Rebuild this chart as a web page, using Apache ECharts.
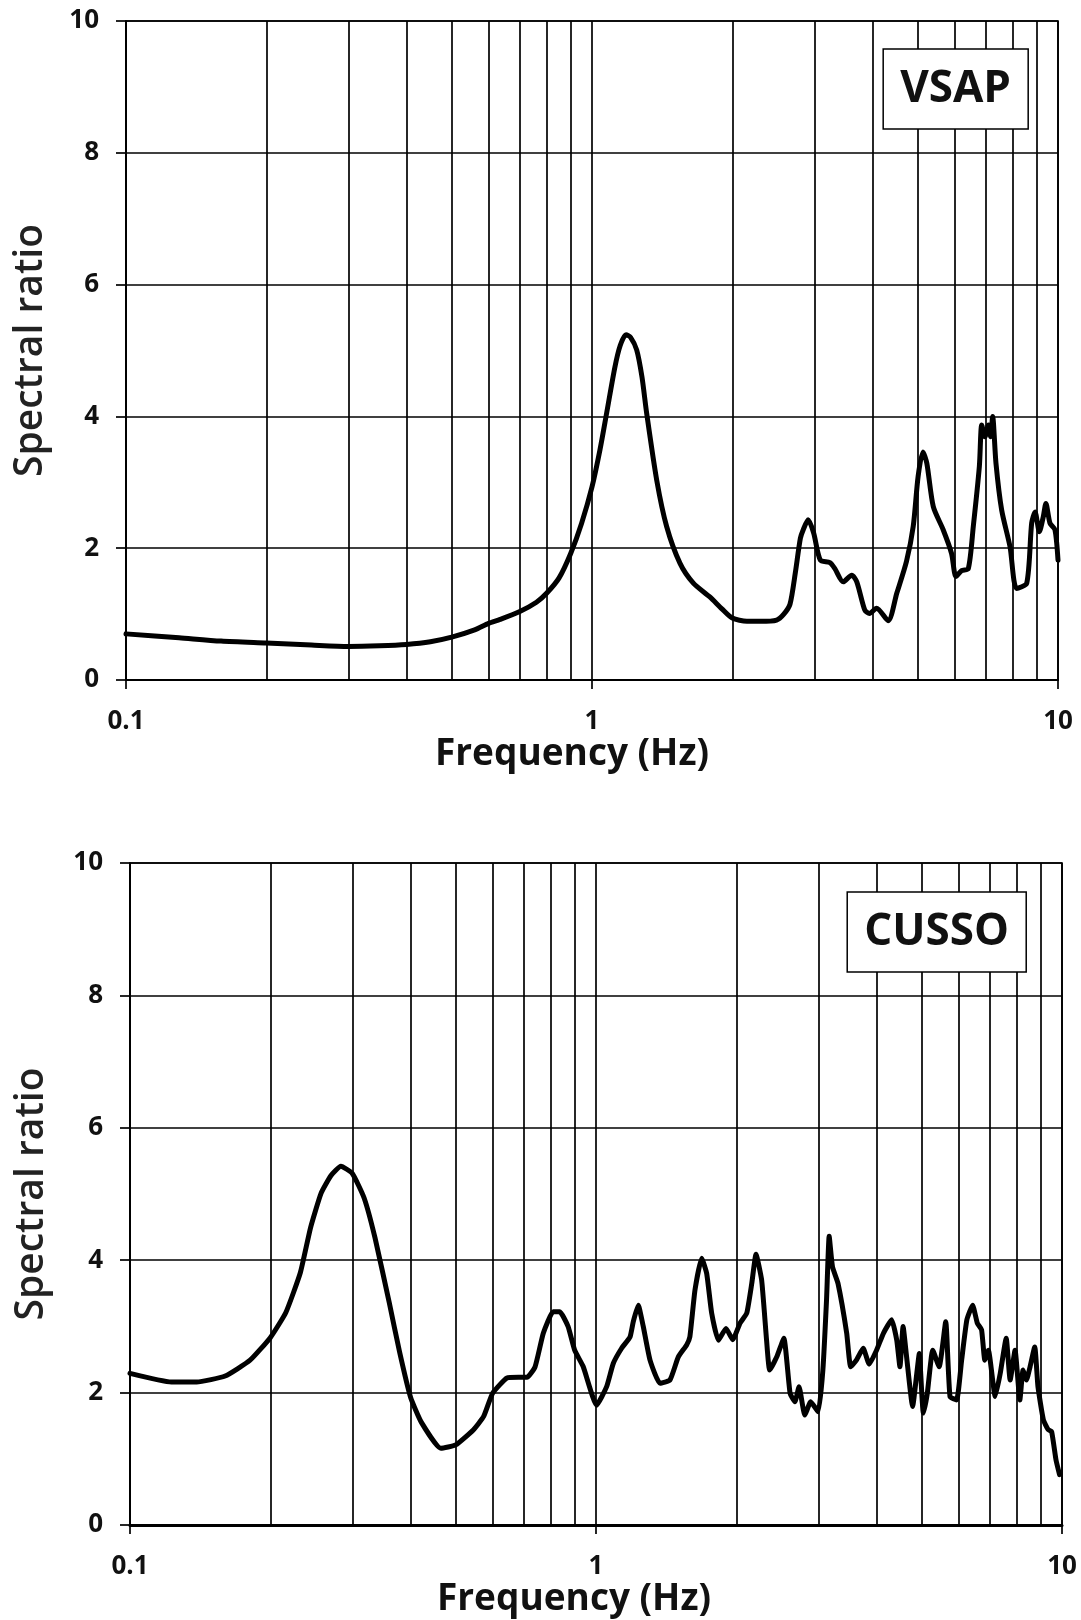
<!DOCTYPE html>
<html>
<head>
    <meta charset="utf-8">
    <title>Spectral ratio</title>
    <style>
        html, body { margin: 0; padding: 0; background: #fff; }
        #chart { width: 1081px; height: 1620px; }
    </style>
</head>
<body>
<div id="chart"></div>
<script src="https://cdn.jsdelivr.net/npm/echarts@6/dist/echarts.min.js"></script>
<script>
    // station names shown in the boxes
    var stations = ['VSAP', 'CUSSO'];

    // VSAP curve (frequency in Hz, spectral ratio)
    var vsapFreq = [0.1, 0.13, 0.16, 0.2, 0.25, 0.3, 0.35, 0.4, 0.45, 0.5, 0.56, 0.6, 0.635, 0.7, 0.76, 0.8, 0.85, 0.9, 0.95, 1.0,
        1.04, 1.075, 1.12, 1.15, 1.183, 1.21, 1.247, 1.28, 1.31, 1.377, 1.446, 1.545, 1.65, 1.79, 1.9, 2.0, 2.15, 2.3, 2.49, 2.58,
        2.66, 2.73, 2.8, 2.84, 2.91, 2.99, 3.09, 3.24, 3.32, 3.46, 3.61, 3.7, 3.85, 3.94, 4.08, 4.32, 4.51, 4.73, 4.89, 5.01,
        5.13, 5.23, 5.4, 5.67, 5.91, 6.04, 6.21, 6.42, 6.58, 6.78, 6.86, 6.97, 7.09, 7.17, 7.24, 7.36, 7.57, 7.89, 8.15, 8.57,
        8.78, 8.93, 9.12, 9.3, 9.42, 9.61, 9.85, 10];
    var vsapRatio = [0.70, 0.64, 0.59, 0.56, 0.53, 0.51, 0.52, 0.54, 0.58, 0.65, 0.76, 0.86, 0.92, 1.04, 1.18, 1.32, 1.55, 1.92, 2.38, 2.93,
        3.49, 4.05, 4.75, 5.08, 5.24, 5.20, 5.01, 4.60, 4.05, 3.03, 2.33, 1.77, 1.47, 1.26, 1.08, 0.94, 0.89, 0.89, 0.91, 1.00,
        1.15, 1.62, 2.15, 2.28, 2.43, 2.23, 1.82, 1.78, 1.69, 1.49, 1.59, 1.49, 1.06, 1.01, 1.09, 0.90, 1.32, 1.80, 2.33, 3.09,
        3.46, 3.29, 2.63, 2.28, 1.92, 1.57, 1.66, 1.69, 2.33, 3.24, 3.87, 3.69, 3.87, 3.69, 4.00, 3.29, 2.58, 2.02, 1.39, 1.47,
        2.38, 2.55, 2.25, 2.48, 2.68, 2.38, 2.28, 1.82];

    // CUSSO curve
    var cussoFreq = [0.1, 0.1227, 0.139, 0.16, 0.181, 0.2, 0.216, 0.232, 0.244, 0.257, 0.27, 0.2835, 0.3, 0.318, 0.3355, 0.36, 0.379, 0.4, 0.422, 0.4646,
        0.5, 0.546, 0.574, 0.6, 0.644, 0.682, 0.711, 0.74, 0.771, 0.809, 0.836, 0.871, 0.9, 0.939, 1.003, 1.054, 1.089, 1.135, 1.183, 1.202,
        1.232, 1.263, 1.306, 1.372, 1.441, 1.502, 1.565, 1.59, 1.631, 1.686, 1.728, 1.771, 1.831, 1.901, 1.965, 2.038, 2.106, 2.159, 2.205, 2.267,
        2.323, 2.359, 2.443, 2.53, 2.609, 2.672, 2.727, 2.806, 2.889, 2.998, 3.068, 3.124, 3.165, 3.217, 3.306, 3.451, 3.52, 3.621, 3.744, 3.857,
        4.0, 4.14, 4.31, 4.42, 4.49, 4.56, 4.64, 4.78, 4.88, 4.94, 5.04, 5.14, 5.28, 5.45, 5.63, 5.75, 5.94, 6.09, 6.25, 6.43,
        6.58, 6.72, 6.83, 6.95, 7.19, 7.37, 7.59, 7.74, 7.93, 8.12, 8.25, 8.39, 8.54, 8.74, 8.88, 9.12, 9.34, 9.5, 9.71, 9.88];
    var cussoRatio = [2.29, 2.16, 2.16, 2.25, 2.49, 2.83, 3.21, 3.81, 4.49, 5.01, 5.28, 5.42, 5.31, 4.94, 4.34, 3.36, 2.61, 1.93, 1.55, 1.16,
        1.21, 1.44, 1.64, 1.99, 2.22, 2.23, 2.23, 2.39, 2.90, 3.22, 3.22, 3.00, 2.64, 2.39, 1.81, 2.09, 2.44, 2.67, 2.84, 3.07,
        3.32, 3.00, 2.49, 2.14, 2.19, 2.54, 2.72, 2.84, 3.55, 4.03, 3.80, 3.20, 2.79, 2.97, 2.80, 3.05, 3.20, 3.65, 4.09, 3.70,
        2.79, 2.34, 2.54, 2.82, 1.99, 1.86, 2.09, 1.66, 1.86, 1.71, 2.34, 3.40, 4.36, 3.90, 3.65, 2.90, 2.39, 2.49, 2.67, 2.43,
        2.64, 2.90, 3.10, 2.79, 2.39, 3.00, 2.54, 1.79, 2.29, 2.59, 1.69, 1.99, 2.64, 2.39, 3.07, 1.94, 1.89, 2.49, 3.10, 3.32,
        3.05, 2.95, 2.49, 2.64, 1.94, 2.29, 2.82, 2.19, 2.64, 1.89, 2.34, 2.19, 2.39, 2.69, 2.09, 1.59, 1.44, 1.41, 0.98, 0.76];

    // vertical lines between decades
    var minorFreq = [0.2, 0.3, 0.4, 0.5, 0.6, 0.7, 0.8, 0.9, 2, 3, 4, 5, 6, 7, 8, 9];

    var ink = '#000';
    var font = 'Open Sans';

    function pairs(xs, ys) {
        var out = [];
        for (var i = 0; i < xs.length; i++) out.push([xs[i], ys[i]]);
        return out;
    }

    function makeX(idx, gap, padRight, width) {
        return {
            type: 'log', logBase: 10, gridIndex: idx, min: 0.1, max: 10,
            name: 'Frequency (Hz)', nameLocation: 'middle', nameGap: gap,
            nameTextStyle: {fontFamily: font, fontWeight: 'bold', fontSize: 37, color: '#111', padding: [0, padRight, 0, 0]},
            axisLine: {show: true, onZero: false, lineStyle: {color: ink, width: width}},
            axisTick: {show: true, length: 9, lineStyle: {color: ink, width: 1.7}},
            axisLabel: {
                fontFamily: font, fontWeight: 'bold', fontSize: 26, color: '#111', margin: 29,
                formatter: function (v) { return String(+v.toPrecision(3)); }
            },
            splitLine: {show: true, lineStyle: {color: ink, width: 1.7}}
        };
    }

    function makeY(idx, gap) {
        return {
            type: 'value', gridIndex: idx, min: 0, max: 10, interval: 2,
            name: 'Spectral ratio', nameLocation: 'middle', nameGap: gap, nameRotate: 90,
            nameTextStyle: {fontFamily: font, fontWeight: 600, fontSize: 39, color: '#222'},
            axisLine: {show: true, lineStyle: {color: ink, width: 1.7}},
            axisTick: {show: true, length: 10, lineStyle: {color: ink, width: 1.7}},
            axisLabel: {fontFamily: font, fontWeight: 'bold', fontSize: 26, color: '#111', margin: 27},
            splitLine: {show: true, lineStyle: {color: ink, width: 1.7}}
        };
    }

    function makeSeries(idx, name, xs, ys, smooth) {
        return {
            name: name, type: 'line', xAxisIndex: idx, yAxisIndex: idx,
            data: pairs(xs, ys), showSymbol: false, smooth: smooth,
            lineStyle: {color: '#000', width: 5, join: 'round', cap: 'round'}, z: 3,
            markLine: {
                silent: true, symbol: 'none', animation: false, z: 1,
                label: {show: false},
                lineStyle: {color: ink, width: 1.7, type: 'solid'},
                data: minorFreq.map(function (f) { return {xAxis: f}; })
            }
        };
    }

    function makeTitle(text, right, top) {
        return {
            text: text, right: right, top: top,
            backgroundColor: '#fff', borderColor: '#000', borderWidth: 1.5,
            padding: [18, 17],
            textStyle: {fontFamily: font, fontWeight: 'bold', fontSize: 44, lineHeight: 44, color: '#111'}
        };
    }

    var option = {
        animation: false,
        backgroundColor: '#fff',
        title: [makeTitle(stations[0], 53, 49), makeTitle(stations[1], 55, 892)],
        grid: [
            {left: 126, top: 21, width: 932, height: 659, show: true, borderColor: ink, borderWidth: 1.7},
            {left: 130, top: 863, width: 932, height: 662, show: true, borderColor: ink, borderWidth: 1.7}
        ],
        xAxis: [makeX(0, 47, 40, 2), makeX(1, 52, 44, 3)],
        yAxis: [makeY(0, 76), makeY(1, 79)],
        series: [
            makeSeries(0, stations[0], vsapFreq, vsapRatio, 0.25),
            makeSeries(1, stations[1], cussoFreq, cussoRatio, 0.15)
        ]
    };

    var myChart = echarts.init(document.getElementById('chart'));
    myChart.setOption(option);
</script>
</body>
</html>
